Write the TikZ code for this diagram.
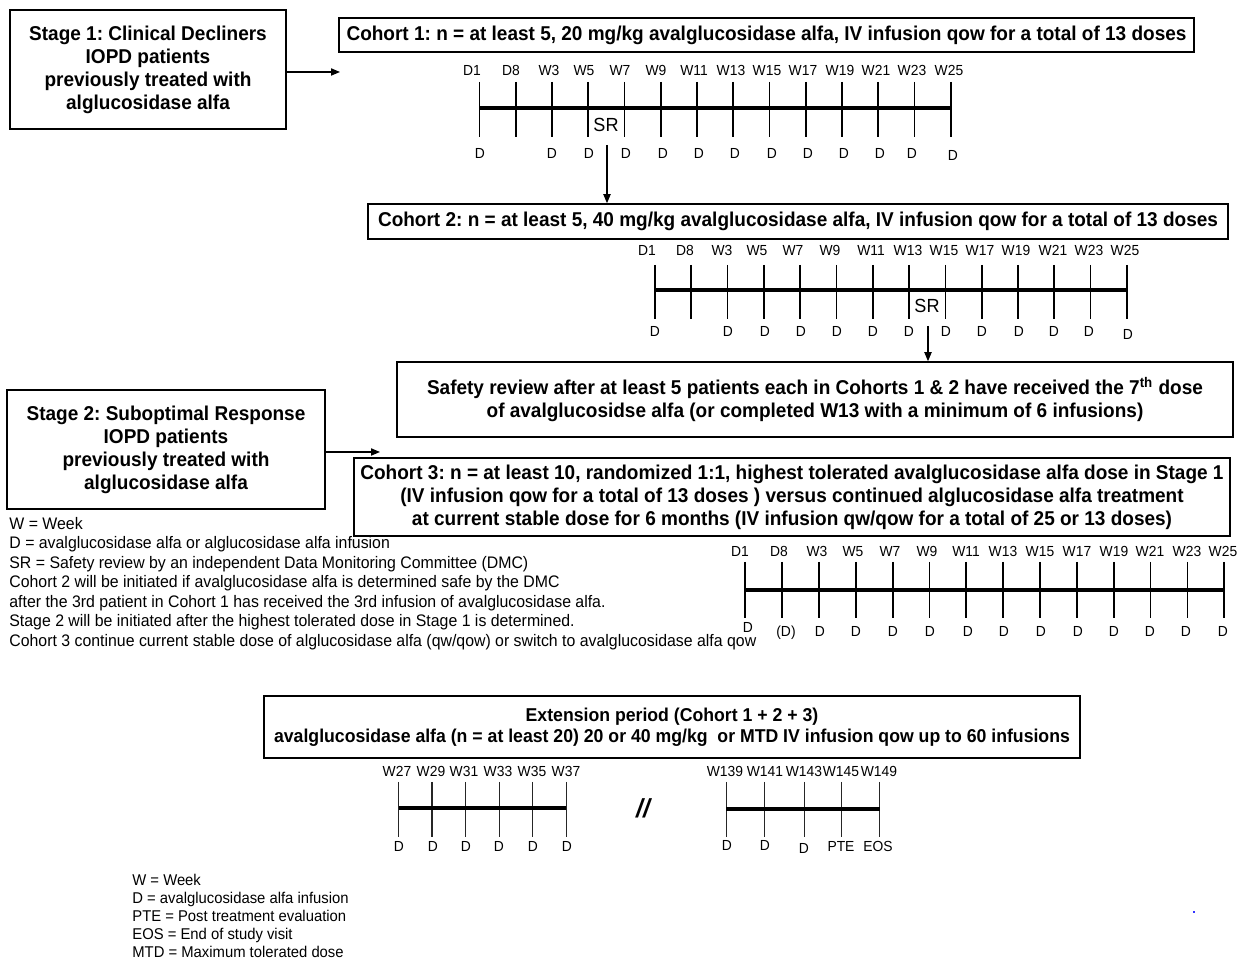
\documentclass[tikz,border=0pt]{standalone}
\usepackage{fontspec}
\setmainfont{Liberation Sans}[FakeStretch=0.95]
\usetikzlibrary{arrows.meta}
\begin{document}
\frenchspacing
\begin{tikzpicture}[x=0.5pt,y=-0.5pt,
  box/.style={draw, line width=0.75pt, align=center, inner sep=0pt,
    font=\frenchspacing\bfseries\fontsize{10}{11.5}\selectfont},
  arr/.style={line width=0.6pt, -{Triangle[length=4.5pt,width=3.6pt]}},
  tick/.style={line width=0.85pt},
  thintick/.style={line width=0.55pt, black!85},
  axis/.style={line width=2pt},
  lab/.style={inner sep=0pt, text height=5.3pt, text depth=0pt, font=\fontsize{7.3}{8}\selectfont},
  srlab/.style={inner sep=0pt, text height=6.9pt, text depth=0pt, font=\fontsize{9.5}{10}\selectfont},
  legend/.style={inner sep=0pt, align=left, anchor=north west}
]
\useasboundingbox (0,0) rectangle (1250,961);

% ---------- Stage 1 / Cohort 1 ----------
\node[box, minimum width=138pt, minimum height=59.5pt] (s1) at (148,69.5)
  {Stage 1: Clinical Decliners\\IOPD patients\\previously treated with\\alglucosidase alfa};
\node[box, minimum width=427.5pt, minimum height=17pt] (c1) at (766.5,35)
  {Cohort 1: n = at least 5, 20 mg/kg avalglucosidase alfa, IV infusion qow for a total of 13 doses};
\coordinate (c1in) at (340,72);
\draw[arr] (s1.east |- c1in) -- (c1in);

\foreach \i in {0,...,13} \draw[tick] ({479.6+36.24*\i},82) -- ++(0,55);
\draw[axis] (479.6,108) -- (950.7,108);
\foreach \x/\t [count=\k] in {472/D1,511/D8,549/W3,584/W5,620/W7,656/W9,694/W11,731/W13,767/W15,803/W17,840/W19,876/W21,912/W23,949/W25}
  \node[lab] (c1top\k) at (\x,70.5) {\t};
\foreach \x [count=\k] in {480,552,589,626,663,699,735,772,808,844,880,912}
  \node[lab] (c1d\k) at (\x,153) {D};
\node[lab] (c1d13) at (953,155) {D};
\node[srlab] (sr1) at (606,125) {SR};

% ---------- Cohort 2 ----------
\node[box, minimum width=430pt, minimum height=17.5pt] (c2) at (798,221.5)
  {Cohort 2: n = at least 5, 40 mg/kg avalglucosidase alfa, IV infusion qow for a total of 13 doses};
\coordinate (sr1out) at (607,145);
\draw[arr] (sr1out) -- (sr1out |- c2.north);

\foreach \i in {0,...,13} \draw[tick] ({654.9+36.31*\i},265) -- ++(0,54);
\draw[axis] (654.9,290.5) -- (1126.9,290.5);
\foreach \x/\t [count=\k] in {647/D1,685/D8,722/W3,757/W5,793/W7,830/W9,871/W11,908/W13,944/W15,980/W17,1016/W19,1053/W21,1089/W23,1125/W25}
  \node[lab] (c2top\k) at (\x,250) {\t};
\foreach \x [count=\k] in {655,728,765,801,837,873,909,946,982,1019,1054,1089}
  \node[lab] (c2d\k) at (\x,331) {D};
\node[lab] (c2d13) at (1128,334) {D};
\node[srlab] (sr2) at (927,306) {SR};

% ---------- Safety review ----------
\node[box, minimum width=418pt, minimum height=37.5pt] (sv) at (815,399.5)
  {Safety review after at least 5 patients each in Cohorts 1 \& 2 have received the 7\textsuperscript{th} dose\\of avalglucosidse alfa (or completed W13 with a minimum of 6 infusions)};
\coordinate (sr2out) at (928,326);
\draw[arr] (sr2out) -- (sr2out |- sv.north);

% ---------- Stage 2 / Cohort 3 ----------
\node[box, minimum width=159pt, minimum height=59.5pt] (s2) at (166,449.5)
  {Stage 2: Suboptimal Response\\IOPD patients\\previously treated with\\alglucosidase alfa};
\node[box, minimum width=438pt, minimum height=39pt] (c3) at (792,497)
  {Cohort 3: n = at least 10, randomized 1:1, highest tolerated avalglucosidase alfa dose in Stage 1\\(IV infusion qow for a total of 13 doses ) versus continued alglucosidase alfa treatment\\at current stable dose for 6 months (IV infusion qw/qow for a total of 25 or 13 doses)};
\coordinate (c3in) at (380,452);
\draw[arr] (s2.east |- c3in) -- (c3in);

\node[legend, font=\frenchspacing\fontsize{8.35}{9.75}\selectfont] (leg1) at (9,517)
  {W = Week\\
   D = avalglucosidase alfa or alglucosidase alfa infusion\\
   SR = Safety review by an independent Data Monitoring Committee (DMC)\\
   Cohort 2 will be initiated if avalglucosidase alfa is determined safe by the DMC\\
   after the 3rd patient in Cohort 1 has received the 3rd infusion of avalglucosidase alfa.\\
   Stage 2 will be initiated after the highest tolerated dose in Stage 1 is determined.\\
   Cohort 3 continue current stable dose of alglucosidase alfa (qw/qow) or switch to avalglucosidase alfa qow};

\foreach \i in {0,...,13} \draw[tick] ({745.3+36.84*\i},562) -- ++(0,56);
\draw[axis] (745.3,590.5) -- (1224.2,590.5);
\foreach \x/\t [count=\k] in {740/D1,779/D8,817/W3,853/W5,890/W7,927/W9,966/W11,1003/W13,1040/W15,1077/W17,1114/W19,1150/W21,1187/W23,1223/W25}
  \node[lab] (c3top\k) at (\x,551) {\t};
\node[lab] (c3d1) at (748,627) {D};
\node[lab] (c3d2) at (786,631) {(D)};
\foreach \x [count=\k from 3] in {820,856,893,930,968,1004,1041,1078,1114,1150,1186,1223}
  \node[lab] (c3d\k) at (\x,631) {D};

% ---------- Extension ----------
\node[box, minimum width=408pt, minimum height=31pt, font=\frenchspacing\bfseries\fontsize{9.3}{10.5}\selectfont] (ext) at (672,727)
  {Extension period (Cohort 1 + 2 + 3)\\avalglucosidase alfa (n = at least 20) 20 or 40 mg/kg\ \ or MTD IV infusion qow up to 60 infusions};

\foreach \x in {398.6,432,465.4,499.1,532.5,566.3} \draw[thintick] (\x,782) -- (\x,837);
\draw[axis] (398.6,808) -- (566.3,808);
\foreach \x/\t [count=\k] in {397/W27,431/W29,464/W31,498/W33,532/W35,566/W37}
  \node[lab] (e1top\k) at (\x,771) {\t};
\foreach \x [count=\k] in {399,433,466,499,533,567}
  \node[lab] (e1d\k) at (\x,846) {D};

\node[inner sep=0pt, font=\bfseries\itshape\fontsize{13}{14}\selectfont] (brk) at (643,808) {//};

\foreach \x in {726.4,764.3,804.5,841.8,879.6} \draw[thintick] (\x,782) -- (\x,837);
\draw[axis] (726.4,809) -- (879.6,809);
\foreach \x/\t [count=\k] in {725/W139,765/W141,804/W143,841/W145,879/W149}
  \node[lab] (e2top\k) at (\x,771) {\t};
\node[lab] (e2d1) at (727,845) {D};
\node[lab] (e2d2) at (765,845) {D};
\node[lab] (e2d3) at (804,848) {D};
\node[lab] (e2d4) at (841,846) {PTE};
\node[lab] (e2d5) at (878,846) {EOS};

\node[legend, font=\frenchspacing\fontsize{7.8}{9}\selectfont] (leg2) at (132,874)
  {W = Week\\
   D = avalglucosidase alfa infusion\\
   PTE = Post treatment evaluation\\
   EOS = End of study visit\\
   MTD = Maximum tolerated dose};

\fill[blue!80] (1192.5,911.5) rectangle (1194.5,913.5);
\end{tikzpicture}
\end{document}
